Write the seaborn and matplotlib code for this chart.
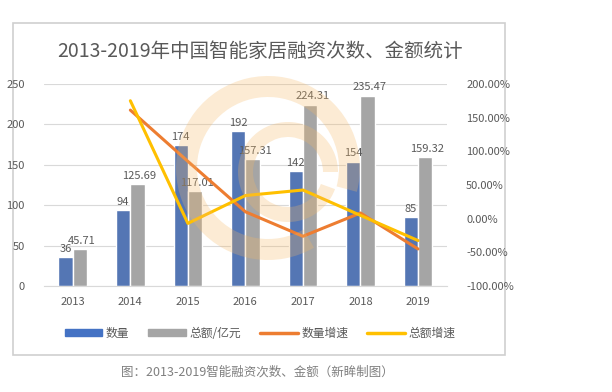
import numpy as np
import pandas as pd
import matplotlib
matplotlib.use('Agg')
import matplotlib.pyplot as plt
import matplotlib.patches as mpatches
from matplotlib.ticker import FuncFormatter
import seaborn as sns

years = ['2013', '2014', '2015', '2016', '2017', '2018', '2019']
count = [36, 94, 174, 192, 142, 154, 85]
amount = [45.71, 125.69, 117.01, 157.31, 224.31, 235.47, 159.32]
count_growth = [np.nan, 161.1, 85.1, 10.3, -26.0, 8.5, -44.8]
amount_growth = [np.nan, 175.0, -6.9, 34.4, 42.6, 5.0, -32.3]

sns.set_style('white')
plt.rcParams['font.family'] = ['Noto Sans CJK SC', 'DejaVu Sans']

txt = '#595959'
c_blue, c_gray, c_orange, c_yellow = '#4472C4', '#A5A5A5', '#ED7D31', '#FFC000'

fig = plt.figure(figsize=(6.12, 3.92), dpi=100)
fig.patch.set_facecolor('white')

# card frame
card = mpatches.FancyBboxPatch((0.022, 0.094), 0.803, 0.847, boxstyle='square,pad=0',
                               transform=fig.transFigure, facecolor='white',
                               edgecolor='#CFCFCF', linewidth=1.2, zorder=-1)
fig.patches.append(card)

ax = fig.add_axes([0.072, 0.270, 0.658, 0.516])

bars = pd.DataFrame({
    'year': years * 2,
    'value': count + amount,
    'series': ['数量'] * 7 + ['总额/亿元'] * 7,
})
sns.barplot(data=bars, x='year', y='value', hue='series', palette=[c_blue, c_gray],
            width=0.5, gap=0, ax=ax, legend=False)

ax.set_ylim(0, 250)
ax.set_yticks(range(0, 251, 50))
ax.set_xlim(-0.5, 6.5)
ax.grid(axis='y', color='#D9D9D9', linewidth=0.8)
ax.set_axisbelow(True)
for s in ['top', 'right', 'left']:
    ax.spines[s].set_visible(False)
ax.spines['bottom'].set_color('#D9D9D9')
ax.tick_params(axis='both', length=0, labelsize=8, labelcolor=txt)
ax.tick_params(axis='y', pad=14)
ax.tick_params(axis='x', pad=8)
ax.set_xlabel('')
ax.set_ylabel('')

for i in range(7):
    ax.text(i - 0.13, count[i] + 4, str(count[i]), ha='center', va='bottom', fontsize=8, color=txt)
    ax.text(i + 0.16, amount[i] + 4, f'{amount[i]:.2f}', ha='center', va='bottom', fontsize=8, color=txt)

ax2 = ax.twinx()
lines = pd.DataFrame({
    'year': years * 2,
    'value': count_growth + amount_growth,
    'series': ['数量增速'] * 7 + ['总额增速'] * 7,
})
sns.lineplot(data=lines, x='year', y='value', hue='series', palette=[c_orange, c_yellow],
             linewidth=2.2, ax=ax2, legend=False, sort=False)
ax2.set_ylim(-100, 200)
ax2.set_yticks(range(-100, 201, 50))
ax2.yaxis.set_major_formatter(FuncFormatter(lambda v, p: f'{v:.2f}%'))
for s in ['top', 'right', 'left', 'bottom']:
    ax2.spines[s].set_visible(False)
ax2.tick_params(axis='y', length=0, labelsize=8, labelcolor=txt, pad=14)
ax2.set_ylabel('')
ax2.set_xlim(-0.5, 6.5)

# watermark rings (semi-transparent, over the chart)
for c, r, w, t1, t2 in [((2.68, 2.24), 0.92, 0.21, -15, 300), ((2.88, 2.20), 0.50, 0.15, 0, 340)]:
    ring = mpatches.Wedge(c, r, t1, t2, width=w, transform=fig.dpi_scale_trans,
                          facecolor='#F5B865', alpha=0.28, edgecolor='none')
    fig.patches.append(ring)

fig.text(0.425, 0.87, '2013-2019年中国智能家居融资次数、金额统计', ha='center', va='center',
         fontsize=14, color=txt)

handles = [
    mpatches.Patch(color=c_blue, label='数量'),
    mpatches.Patch(color=c_gray, label='总额/亿元'),
    plt.Line2D([], [], color=c_orange, lw=2.5, label='数量增速'),
    plt.Line2D([], [], color=c_yellow, lw=2.5, label='总额增速'),
]
fig.legend(handles=handles, loc='center', bbox_to_anchor=(0.425, 0.15), ncol=4, frameon=False,
           fontsize=8.5, labelcolor=txt, handlelength=3.2, handleheight=0.6, columnspacing=1.6,
           handletextpad=0.3)

fig.text(0.42, 0.052, '图：2013-2019智能融资次数、金额（新眸制图）', ha='center', va='center',
         fontsize=9, color='#7F7F7F')

fig.savefig('out.png', dpi=100)
